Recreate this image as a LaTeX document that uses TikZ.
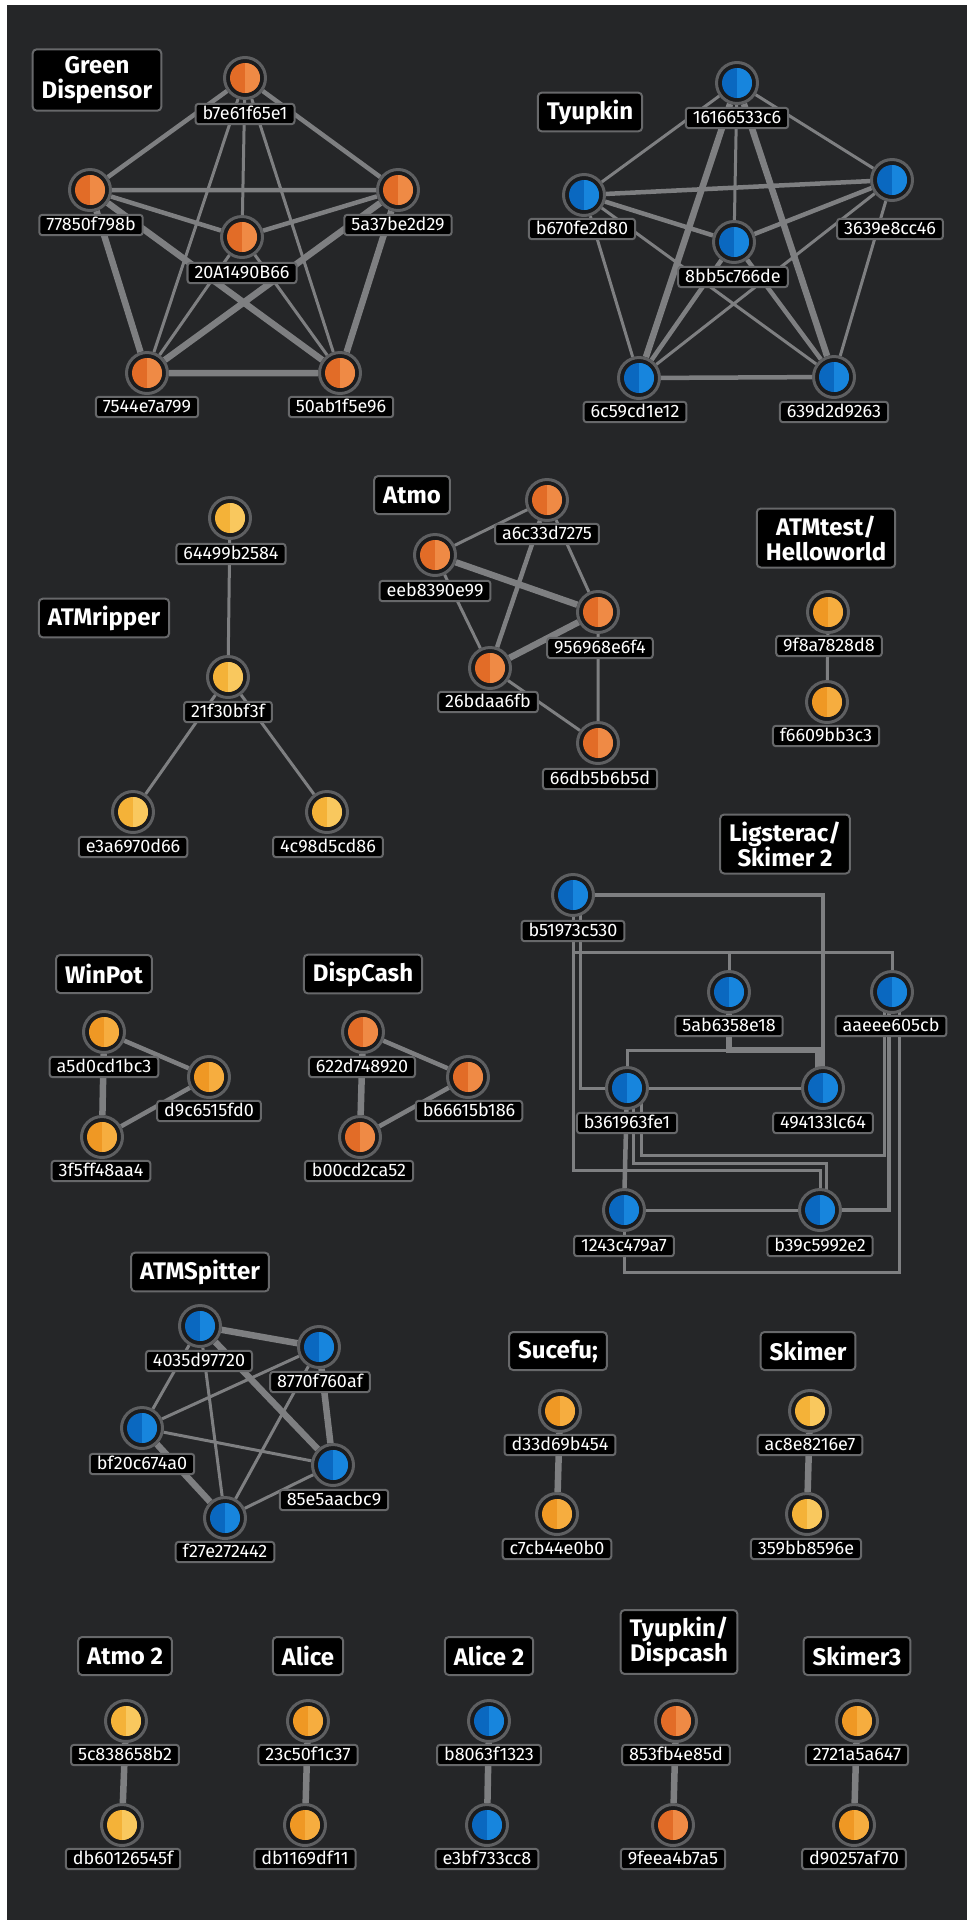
\documentclass[tikz,border=0pt]{standalone}
\usepackage{fontspec}
\setmainfont{Fira Sans}
\usetikzlibrary{calc}

\pgfdeclarelayer{bgl}
\pgfdeclarelayer{lnk}
\pgfsetlayers{bgl,lnk,main}

\definecolor{bgdark}{HTML}{252628}
\definecolor{ringg}{HTML}{5E5F61}
\definecolor{boxg}{HTML}{67686A}
\definecolor{lnkg}{HTML}{7E7F81}
\definecolor{holed}{HTML}{1B1C1E}
\definecolor{org}{HTML}{E26C27}
\definecolor{orgL}{HTML}{EF8A45}
\definecolor{amb}{HTML}{EF9824}
\definecolor{ambL}{HTML}{F6AD3F}
\definecolor{ylw}{HTML}{F4B238}
\definecolor{ylwL}{HTML}{F9C85E}
\definecolor{blu}{HTML}{0A68C0}
\definecolor{bluL}{HTML}{1785DD}

\tikzset{every picture/.style={line width=0.75pt}}
\tikzset{
  host/.style={circle, draw=ringg, line width=1.5pt, fill=holed, minimum size=20.5pt, inner sep=0pt,
    path picture={
      \fill[#1] (path picture bounding box.center) circle (7.5pt);
      \fill[#1L] (path picture bounding box.center) ++(0,7.5pt) arc (90:-90:7.5pt) -- cycle;}},
  hexid/.style={draw=boxg, line width=1pt, fill=black, rounded corners=1.5pt, text=white,
    font=\fontsize{9}{10}\selectfont, inner xsep=3.5pt, inner ysep=1pt, text height=6.6pt, text depth=1.6pt},
  grp/.style={draw=boxg, line width=1pt, fill=black, rounded corners=2pt, text=white, align=center,
    font=\bfseries\fontsize{12}{12.5}\selectfont, inner xsep=4.5pt, inner ysep=3.5pt, minimum height=19pt},
  conn/.style={draw=lnkg, line width=1.5pt},
  connm/.style={draw=lnkg, line width=2.25pt},
  connt/.style={draw=lnkg, line width=3.25pt},
}

\begin{document}
\begin{tikzpicture}[x=0.5pt,y=0.5pt,yscale=-1,xscale=1]
\useasboundingbox (0,0) rectangle (969,1923);
\begin{pgfonlayer}{bgl}
  \fill[white] (0,0) rectangle (969,1923);
  \fill[bgdark] (7,5) rectangle (967,1920);
\end{pgfonlayer}

%Green Dispensor
\node[grp] (tgd) at (97,80) {Green\\Dispensor};
\node[host=org] (gd1) at (245,78) {};
\node[hexid] (gd1t) at (245,114) {b7e61f65e1};
\node[host=org] (gd2) at (90,190) {};
\node[hexid] (gd2t) at (91,225) {77850f798b};
\node[host=org] (gd3) at (398,190) {};
\node[hexid] (gd3t) at (398,225) {5a37be2d29};
\node[host=org] (gd4) at (242,237) {};
\node[hexid] (gd4t) at (242,273) {20A1490B66};
\node[host=org] (gd5) at (147,373) {};
\node[hexid] (gd5t) at (147,407) {7544e7a799};
\node[host=org] (gd6) at (340,373) {};
\node[hexid] (gd6t) at (341,407) {50ab1f5e96};

%Tyupkin
\node[grp] (tty) at (590,112) {Tyupkin};
\node[host=blu] (ty1) at (737,83) {};
\node[hexid] (ty1t) at (737,118) {16166533c6};
\node[host=blu] (ty2) at (584,195) {};
\node[hexid] (ty2t) at (582,229) {b670fe2d80};
\node[host=blu] (ty3) at (892,180) {};
\node[hexid] (ty3t) at (890,229) {3639e8cc46};
\node[host=blu] (ty4) at (734,242) {};
\node[hexid] (ty4t) at (733,277) {8bb5c766de};
\node[host=blu] (ty5) at (639,378) {};
\node[hexid] (ty5t) at (635,412) {6c59cd1e12};
\node[host=blu] (ty6) at (834,377) {};
\node[hexid] (ty6t) at (834,412) {639d2d9263};

%ATMripper
\node[grp] (tar) at (104,618) {ATMripper};
\node[host=ylw] (ar1) at (230,518) {};
\node[hexid] (ar1t) at (231,554) {64499b2584};
\node[host=ylw] (ar2) at (228,677) {};
\node[hexid] (ar2t) at (228,712) {21f30bf3f};
\node[host=ylw] (ar3) at (133,812) {};
\node[hexid] (ar3t) at (133,847) {e3a6970d66};
\node[host=ylw] (ar4) at (327,812) {};
\node[hexid] (ar4t) at (328,847) {4c98d5cd86};

%Atmo
\node[grp] (tat) at (412,495) {Atmo};
\node[host=org] (at1) at (435,555) {};
\node[hexid] (at1t) at (435,591) {eeb8390e99};
\node[host=org] (at2) at (547,500) {};
\node[hexid] (at2t) at (547,534) {a6c33d7275};
\node[host=org] (at3) at (598,612) {};
\node[hexid] (at3t) at (600,648) {956968e6f4};
\node[host=org] (at4) at (490,668) {};
\node[hexid] (at4t) at (488,702) {26bdaa6fb};
\node[host=org] (at5) at (598,743) {};
\node[hexid] (at5t) at (600,779) {66db5b6b5d};

%ATMtest/Helloworld
\node[grp] (tah) at (826,538) {ATMtest/\\Helloworld};
\node[host=amb] (ah1) at (828,612) {};
\node[hexid] (ah1t) at (829,646) {9f8a7828d8};
\node[host=amb] (ah2) at (827,702) {};
\node[hexid] (ah2t) at (826,736) {f6609bb3c3};

%Ligsterac/Skimer 2
\node[grp] (tlg) at (785,844) {Ligsterac/\\Skimer 2};
\node[host=blu] (lg1) at (573,895) {};
\node[hexid] (lg1t) at (573,931) {b51973c530};
\node[host=blu] (lg2) at (729,992) {};
\node[hexid] (lg2t) at (729,1026) {5ab6358e18};
\node[host=blu] (lg3) at (892,992) {};
\node[hexid] (lg3t) at (891,1026) {aaeee605cb};
\node[host=blu] (lg4) at (627,1088) {};
\node[hexid] (lg4t) at (627,1123) {b361963fe1};
\node[host=blu] (lg5) at (823,1088) {};
\node[hexid] (lg5t) at (823,1123) {494133lc64};
\node[host=blu] (lg6) at (624,1210) {};
\node[hexid] (lg6t) at (624,1246) {1243c479a7};
\node[host=blu] (lg7) at (820,1210) {};
\node[hexid] (lg7t) at (820,1246) {b39c5992e2};

%WinPot
\node[grp] (twp) at (104,974) {WinPot};
\node[host=amb] (wp1) at (104,1032) {};
\node[hexid] (wp1t) at (104,1067) {a5d0cd1bc3};
\node[host=amb] (wp2) at (209,1077) {};
\node[hexid] (wp2t) at (209,1111) {d9c6515fd0};
\node[host=amb] (wp3) at (102,1137) {};
\node[hexid] (wp3t) at (101,1171) {3f5ff48aa4};

%DispCash
\node[grp] (tdc) at (363,974) {DispCash};
\node[host=org] (dc1) at (363,1032) {};
\node[hexid] (dc1t) at (362,1067) {622d748920};
\node[host=org] (dc2) at (468,1077) {};
\node[hexid] (dc2t) at (469,1111) {b66615b186};
\node[host=org] (dc3) at (360,1137) {};
\node[hexid] (dc3t) at (359,1171) {b00cd2ca52};

%ATMSpitter
\node[grp] (tsp) at (200,1272) {ATMSpitter};
\node[host=blu] (sp1) at (200,1326) {};
\node[hexid] (sp1t) at (199,1361) {4035d97720};
\node[host=blu] (sp2) at (319,1347) {};
\node[hexid] (sp2t) at (320,1382) {8770f760af};
\node[host=blu] (sp3) at (142,1428) {};
\node[hexid] (sp3t) at (142,1464) {bf20c674a0};
\node[host=blu] (sp4) at (333,1465) {};
\node[hexid] (sp4t) at (334,1500) {85e5aacbc9};
\node[host=blu] (sp5) at (225,1518) {};
\node[hexid] (sp5t) at (225,1552) {f27e272442};

%Sucefu; and Skimer
\node[grp] (tsc) at (558,1351) {Sucefu;};
\node[host=amb] (sc1) at (560,1411) {};
\node[hexid] (sc1t) at (560,1445) {d33d69b454};
\node[host=amb] (sc2) at (557,1514) {};
\node[hexid] (sc2t) at (557,1549) {c7cb44e0b0};
\node[grp] (tsk) at (808,1351) {Skimer};
\node[host=ylw] (sk1) at (810,1411) {};
\node[hexid] (sk1t) at (810,1445) {ac8e8216e7};
\node[host=ylw] (sk2) at (807,1514) {};
\node[hexid] (sk2t) at (806,1549) {359bb8596e};

%bottom row
\node[grp] (ta2) at (125,1656) {Atmo 2};
\node[host=ylw] (a21) at (126,1721) {};
\node[hexid] (a21t) at (125,1755) {5c838658b2};
\node[host=ylw] (a22) at (122,1825) {};
\node[hexid] (a22t) at (123,1859) {db60126545f};
\node[grp] (tal) at (308,1656) {Alice};
\node[host=amb] (al1) at (308,1721) {};
\node[hexid] (al1t) at (308,1755) {23c50f1c37};
\node[host=amb] (al2) at (305,1825) {};
\node[hexid] (al2t) at (305,1859) {db1169df11};
\node[grp] (tb2) at (489,1656) {Alice 2};
\node[host=blu] (b21) at (489,1721) {};
\node[hexid] (b21t) at (489,1755) {b8063f1323};
\node[host=blu] (b22) at (487,1825) {};
\node[hexid] (b22t) at (487,1859) {e3bf733cc8};
\node[grp] (ttd) at (679,1642) {Tyupkin/\\Dispcash};
\node[host=org] (td1) at (676,1721) {};
\node[hexid] (td1t) at (676,1755) {853fb4e85d};
\node[host=org] (td2) at (673,1825) {};
\node[hexid] (td2t) at (673,1859) {9feea4b7a5};
\node[grp] (ts3) at (857,1656) {Skimer3};
\node[host=amb] (s31) at (857,1721) {};
\node[hexid] (s31t) at (857,1755) {2721a5a647};
\node[host=amb] (s32) at (854,1825) {};
\node[hexid] (s32t) at (854,1859) {d90257af70};

\begin{pgfonlayer}{lnk}
  %Green Dispensor
  \draw[connm] (gd1) -- (gd2) (gd1) -- (gd3) (gd2) -- (gd3) (gd2) -- (gd4) (gd3) -- (gd4);
  \draw[conn] (gd1) -- (gd4) (gd1) -- (gd5) (gd1) -- (gd6) (gd4) -- (gd5) (gd4) -- (gd6);
  \draw[connt] (gd2) -- (gd5) (gd2) -- (gd6) (gd3) -- (gd5) (gd3) -- (gd6) (gd5) -- (gd6);
  %Tyupkin
  \draw[conn] (ty1) -- (ty2) (ty1) -- (ty3) (ty1) -- (ty4) (ty2) -- (ty5) (ty2) -- (ty6) (ty3) -- (ty5) (ty3) -- (ty6);
  \draw[connm] (ty2) -- (ty3) (ty2) -- (ty4) (ty3) -- (ty4) (ty4) -- (ty5) (ty4) -- (ty6) (ty5) -- (ty6);
  \draw[connt] (ty1) -- (ty5) (ty1) -- (ty6);
  %ATMripper
  \draw[conn] (ar1) -- (ar2) (ar2) -- (ar3) (ar2) -- (ar4);
  %Atmo
  \draw[conn] (at1) -- (at2) (at1) -- (at4) (at2) -- (at3) (at4) -- (at5) (at3) -- (at5);
  \draw[connm] (at2) -- (at4);
  \draw[connt] (at1) -- (at3) (at4) -- (at3);
  %ATMtest/Helloworld
  \draw[conn] (ah1) -- (ah2);
  %Ligsterac/Skimer 2
  \draw[connm] (lg1) -| (lg5);
  \draw[conn] (lg1) -- ++(0,57) -| (lg2);
  \draw[conn] (lg1) -- ++(0,57) -| (lg3);
  \draw[conn] (lg1) ++(7,0) |- (lg4);
  \draw[conn] (lg1) -- (lg1 |- 0,1170) -| (lg6);
  \draw[conn] (lg1) -- (lg1 |- 0,1170) -| (lg7);
  \draw[connt] (lg2) -- ++(0,58) -| ($(lg5)+(-5,0)$);
  \draw[conn] (lg2) -- ++(0,58) -| (lg4);
  \draw[conn] (lg4) -- (lg5);
  \draw[connm] (lg4) -- (lg6);
  \draw[conn] (lg4) ++(6,0) -- ++(0,75) -| ($(lg7)+(6,0)$);
  \draw[conn] (lg4) ++(14,0) -- ++(0,67) -| ($(lg3)+(-8,0)$);
  \draw[connm] (lg3) ++(-3,0) |- (lg7);
  \draw[conn] (lg3) ++(7,0) -- ++(0,280) -| (lg6);
  \draw[conn] (lg6) -- (lg7);
  %WinPot, DispCash
  \draw[connm] (wp1) -- (wp2) (wp3) -- (wp2) (dc1) -- (dc2) (dc3) -- (dc2);
  \draw[connt] (wp1) -- (wp3) (dc1) -- (dc3);
  %ATMSpitter
  \draw[conn] (sp1) -- (sp3) (sp1) -- (sp5) (sp2) -- (sp3) (sp2) -- (sp5) (sp3) -- (sp4) (sp5) -- (sp4);
  \draw[connt] (sp1) -- (sp2) (sp1) -- (sp4) (sp2) -- (sp4) (sp3) -- (sp5);
  %pairs
  \draw[connt] (sc1) -- (sc2) (sk1) -- (sk2);
  \draw[connt] (a21) -- (a22) (al1) -- (al2) (b21) -- (b22) (td1) -- (td2) (s31) -- (s32);
\end{pgfonlayer}
\end{tikzpicture}
\end{document}
